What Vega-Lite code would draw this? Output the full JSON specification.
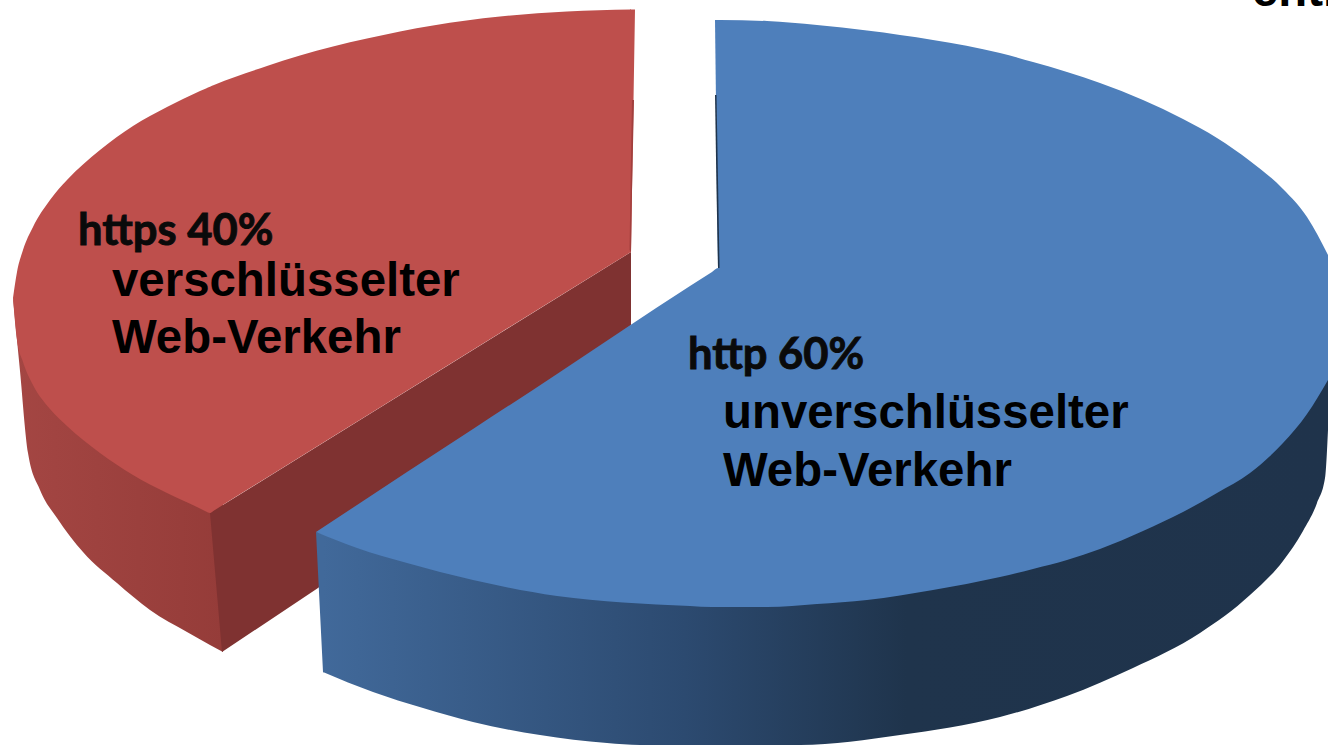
{"$schema":"https://vega.github.io/schema/vega-lite/v6.json","width":1328,"height":745,"autosize":{"type":"fit","contains":"padding"},"padding":0,"background":"white","view":{"stroke":null},
"datasets":{"outline":[
{"s":"redWall","x":13,"y":298,"y2":298},{"s":"redWall","x":17,"y":310,"y2":340},{"s":"redWall","x":20,"y":325,"y2":371},{"s":"redWall","x":28,"y":355,"y2":453},{"s":"redWall","x":40,"y":380,"y2":490},{"s":"redWall","x":57,"y":400,"y2":518},{"s":"redWall","x":83,"y":425,"y2":552},{"s":"redWall","x":117,"y":445,"y2":583},{"s":"redWall","x":150,"y":470,"y2":610},{"s":"redWall","x":187,"y":490,"y2":632},{"s":"redWall","x":210,"y":503,"y2":645},{"s":"redWall","x":223,"y":495,"y2":652},
{"s":"redInner","x":210,"y":513,"y2":513},{"s":"redInner","x":222,"y":505.5,"y2":652},{"s":"redInner","x":318,"y":446,"y2":588},{"s":"redInner","x":631,"y":252,"y2":325},
{"s":"redTop","x":13,"y":298,"y2":298},{"s":"redTop","x":17,"y":272,"y2":340},{"s":"redTop","x":23,"y":250,"y2":362},{"s":"redTop","x":33,"y":227,"y2":385},{"s":"redTop","x":50,"y":200,"y2":409},{"s":"redTop","x":67,"y":180,"y2":426},{"s":"redTop","x":100,"y":150,"y2":453},{"s":"redTop","x":133,"y":126,"y2":475},{"s":"redTop","x":167,"y":107,"y2":493},{"s":"redTop","x":200,"y":91,"y2":508.5},{"s":"redTop","x":206,"y":88.4,"y2":511.5},{"s":"redTop","x":210,"y":86.7,"y2":513},{"s":"redTop","x":214,"y":85,"y2":510.5},{"s":"redTop","x":267,"y":66,"y2":477.5},{"s":"redTop","x":300,"y":55.5,"y2":457},{"s":"redTop","x":333,"y":46.5,"y2":436.5},{"s":"redTop","x":367,"y":38.5,"y2":415.5},{"s":"redTop","x":400,"y":31.5,"y2":395},{"s":"redTop","x":433,"y":25.5,"y2":374.5},{"s":"redTop","x":500,"y":16.5,"y2":333},{"s":"redTop","x":567,"y":11.5,"y2":291.5},{"s":"redTop","x":631,"y":9.6,"y2":252},
{"s":"redTip","x":630,"y":9.6,"y2":252.6},{"s":"redTip","x":631,"y":9.6,"y2":252},{"s":"redTip","x":635,"y":9.5,"y2":9.5},
{"s":"redEdge","x":629.5,"y":250,"y2":250},{"s":"redEdge","x":631,"y":160,"y2":252},{"s":"redEdge","x":632,"y":100,"y2":190},{"s":"redEdge","x":634,"y":100,"y2":100},
{"s":"blueWallLeft","x":316,"y":532,"y2":532},{"s":"blueWallLeft","x":323,"y":534,"y2":672},{"s":"blueWallLeft","x":324,"y":534,"y2":672.4},
{"s":"blueWall","x":323,"y":530,"y2":672},{"s":"blueWall","x":373,"y":545,"y2":692},{"s":"blueWall","x":423,"y":560,"y2":708},{"s":"blueWall","x":473,"y":570,"y2":722},{"s":"blueWall","x":540,"y":583,"y2":735},{"s":"blueWall","x":607,"y":591,"y2":743},{"s":"blueWall","x":640,"y":594,"y2":745},{"s":"blueWall","x":800,"y":595,"y2":745},{"s":"blueWall","x":900,"y":585,"y2":735},{"s":"blueWall","x":1000,"y":567,"y2":717},{"s":"blueWall","x":1067,"y":550,"y2":696},{"s":"blueWall","x":1133,"y":525,"y2":668},{"s":"blueWall","x":1200,"y":490,"y2":633},{"s":"blueWall","x":1250,"y":455,"y2":595},{"s":"blueWall","x":1283,"y":428,"y2":561},{"s":"blueWall","x":1303,"y":405,"y2":531},{"s":"blueWall","x":1317,"y":388,"y2":503},{"s":"blueWall","x":1325,"y":380,"y2":478},{"s":"blueWall","x":1328,"y":378,"y2":430},
{"s":"blueTopA","x":316,"y":532,"y2":532},{"s":"blueTopA","x":357,"y":505,"y2":548},{"s":"blueTopA","x":407,"y":472,"y2":563},{"s":"blueTopA","x":473,"y":429,"y2":580},{"s":"blueTopA","x":557,"y":374,"y2":596},{"s":"blueTopA","x":623,"y":330,"y2":602.5},{"s":"blueTopA","x":690,"y":286,"y2":606},{"s":"blueTopA","x":712,"y":272,"y2":607},{"s":"blueTopA","x":718,"y":268,"y2":607},{"s":"blueTopA","x":730,"y":268,"y2":607},
{"s":"blueTopC","x":715,"y":20,"y2":20},{"s":"blueTopC","x":718,"y":20,"y2":268},{"s":"blueTopC","x":722,"y":20,"y2":268},
{"s":"blueTopB","x":720,"y":20,"y2":607},{"s":"blueTopB","x":767,"y":21,"y2":607},{"s":"blueTopB","x":817,"y":25,"y2":604},{"s":"blueTopB","x":867,"y":30.5,"y2":600},{"s":"blueTopB","x":933,"y":40,"y2":590},{"s":"blueTopB","x":1000,"y":53,"y2":577},{"s":"blueTopB","x":1033,"y":62,"y2":569},{"s":"blueTopB","x":1067,"y":72,"y2":560},{"s":"blueTopB","x":1100,"y":83,"y2":549},{"s":"blueTopB","x":1143,"y":100,"y2":531},{"s":"blueTopB","x":1183,"y":119,"y2":512},{"s":"blueTopB","x":1217,"y":138,"y2":493},{"s":"blueTopB","x":1250,"y":161,"y2":473},{"s":"blueTopB","x":1283,"y":189,"y2":443},{"s":"blueTopB","x":1307,"y":217,"y2":414},{"s":"blueTopB","x":1328,"y":255,"y2":380},
{"s":"blueEdge","x":715,"y":95,"y2":95},{"s":"blueEdge","x":716.5,"y":95,"y2":190},{"s":"blueEdge","x":718,"y":180,"y2":268},{"s":"blueEdge","x":719.5,"y":265,"y2":268}
],
"labels":[
{"kind":"head","x":78,"y":245,"label":"https 40%"},{"kind":"head","x":688,"y":369,"label":"http 60%"},
{"kind":"body","x":112,"y":296,"label":"verschlüsselter"},{"kind":"body","x":112,"y":353,"label":"Web-Verkehr"},
{"kind":"body","x":723,"y":428,"label":"unverschlüsselter"},{"kind":"body","x":723,"y":486,"label":"Web-Verkehr"},
{"kind":"body","x":1252,"y":6,"label":"entr"}
]},
"encoding":{"x":{"field":"x","type":"quantitative","axis":null,"scale":{"domain":[0,1328],"nice":false,"zero":false}},"y":{"field":"y","type":"quantitative","axis":null,"scale":{"domain":[745,0],"nice":false,"zero":false}}},
"layer":[
{"data":{"name":"outline"},"transform":[{"filter":"datum.s==='redWall'"}],"mark":{"type":"area","interpolate":"monotone","color":{"gradient":"linear","x1":0,"x2":1,"y1":0,"y2":0,"stops":[{"offset":0,"color":"#a44643"},{"offset":1,"color":"#953c39"}]}},"encoding":{"y2":{"field":"y2"}}},
{"data":{"name":"outline"},"transform":[{"filter":"datum.s==='redInner'"}],"mark":{"type":"area","color":"#7f3231"},"encoding":{"y2":{"field":"y2"}}},
{"data":{"name":"outline"},"transform":[{"filter":"datum.s==='redTop'"}],"mark":{"type":"area","interpolate":"monotone","color":"#be4f4c"},"encoding":{"y2":{"field":"y2"}}},
{"data":{"name":"outline"},"transform":[{"filter":"datum.s==='redTip'"}],"mark":{"type":"area","color":"#be4f4c"},"encoding":{"y2":{"field":"y2"}}},
{"data":{"name":"outline"},"transform":[{"filter":"datum.s==='redEdge'"}],"mark":{"type":"area","color":"#a23f3d"},"encoding":{"y2":{"field":"y2"}}},
{"data":{"name":"outline"},"transform":[{"filter":"datum.s==='blueWallLeft'"}],"mark":{"type":"area","color":"#41699a"},"encoding":{"y2":{"field":"y2"}}},
{"data":{"name":"outline"},"transform":[{"filter":"datum.s==='blueWall'"}],"mark":{"type":"area","interpolate":"monotone","color":{"gradient":"linear","x1":0,"x2":1,"y1":0,"y2":0,"stops":[{"offset":0,"color":"#41699a"},{"offset":0.36,"color":"#2c4a70"},{"offset":0.58,"color":"#1f344c"},{"offset":1,"color":"#1f334b"}]}},"encoding":{"y2":{"field":"y2"}}},
{"data":{"name":"outline"},"transform":[{"filter":"datum.s==='blueTopA'"}],"mark":{"type":"area","interpolate":"monotone","color":"#4e7fbb"},"encoding":{"y2":{"field":"y2"}}},
{"data":{"name":"outline"},"transform":[{"filter":"datum.s==='blueTopC'"}],"mark":{"type":"area","color":"#4e7fbb"},"encoding":{"y2":{"field":"y2"}}},
{"data":{"name":"outline"},"transform":[{"filter":"datum.s==='blueTopB'"}],"mark":{"type":"area","interpolate":"monotone","color":"#4e7fbb"},"encoding":{"y2":{"field":"y2"}}},
{"data":{"name":"outline"},"transform":[{"filter":"datum.s==='blueEdge'"}],"mark":{"type":"area","color":"#1f344c"},"encoding":{"y2":{"field":"y2"}}},
{"data":{"name":"labels"},"transform":[{"filter":"datum.kind==='head'"}],"mark":{"type":"text","align":"left","baseline":"alphabetic","font":"Lato","fontWeight":"bold","fontSize":43.5,"color":"#0a0a0a","stroke":"#0a0a0a","strokeWidth":0.9,"clip":true},"encoding":{"text":{"field":"label"}}},
{"data":{"name":"labels"},"transform":[{"filter":"datum.kind==='body'"}],"mark":{"type":"text","align":"left","baseline":"alphabetic","font":"Liberation Sans","fontWeight":"bold","fontSize":47.4,"color":"#000000","clip":true},"encoding":{"text":{"field":"label"}}}
]}
